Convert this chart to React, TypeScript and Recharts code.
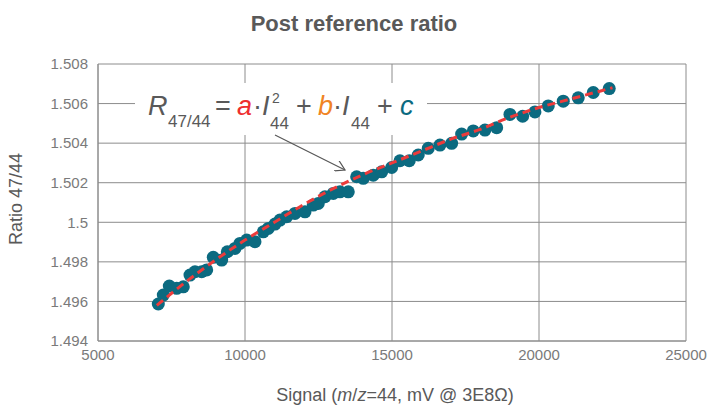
import React from "react";
import {
  ComposedChart,
  Scatter,
  XAxis,
  YAxis,
  CartesianGrid,
} from "recharts";

const signal = [
  7051, 7221, 7425, 7677, 7901, 8129, 8299, 8527, 8697, 8921, 9207, 9398, 9659,
  9829, 10057, 10339, 10622, 10792, 11020, 11190, 11418, 11700, 12040, 12322,
  12492, 12720, 13002, 13230, 13513, 13798, 14023, 14363, 14649, 14989, 15271,
  15587, 15893, 16233, 16631, 17029, 17369, 17764, 18162, 18560, 19012, 19444,
  19862, 20315, 20825, 21335, 21845, 22389,
];
const ratio = [
  1.49587, 1.49632, 1.49678, 1.49666, 1.49674, 1.49733, 1.4975, 1.4975, 1.49759,
  1.49823, 1.49809, 1.49851, 1.49868, 1.49893, 1.4991, 1.49902, 1.49952,
  1.49969, 1.49991, 1.50011, 1.50028, 1.50045, 1.50053, 1.50087, 1.50095,
  1.50129, 1.50146, 1.50154, 1.50154, 1.5023, 1.50222, 1.50238, 1.50255,
  1.50277, 1.50311, 1.50311, 1.5034, 1.50374, 1.5039, 1.50399, 1.50446,
  1.50462, 1.50466, 1.50478, 1.50545, 1.50536, 1.50558, 1.50588, 1.50612,
  1.50629, 1.50656, 1.50676,
];

// dashed fit curve
const fitSignal = [7000, 8000, 9000, 10000, 11000, 12000, 13000, 14000, 15000, 16000, 17000, 18000, 19000, 20000, 21000, 22000, 22500];
const fitRatio = [1.4958, 1.497, 1.4981, 1.4991, 1.5, 1.5009, 1.5017, 1.5024, 1.503, 1.5036, 1.5042, 1.5047, 1.5053, 1.5058, 1.5062, 1.5066, 1.5068];

const xTicks = [5000, 10000, 15000, 20000, 25000];
const yTicks = [1.494, 1.496, 1.498, 1.5, 1.502, 1.504, 1.506, 1.508];

const points = signal.map((x, i) => ({ x, y: ratio[i] }));
const fit = fitSignal.map((x, i) => ({ x, y: fitRatio[i] }));

const FONT = "'Liberation Sans', Arial, sans-serif";
const TEAL = "#0b6a80";
const GRID = "#8c8c8c";

const Dot = (props: any) => (
  <circle cx={props.cx} cy={props.cy} r={6.5} fill={TEAL} />
);
const NoDot = () => <g />;

export default function App() {
  return (
    <div style={{ position: "absolute", left: 0, top: 0, width: 709, height: 406, background: "#fff", fontFamily: FONT }}>
      <ComposedChart
        width={709}
        height={406}
        margin={{ top: 64, right: 23, bottom: 0, left: 0 }}
      >
        <CartesianGrid stroke={GRID} strokeWidth={1} />
        <XAxis
          type="number"
          dataKey="x"
          domain={[5000, 25000]}
          ticks={xTicks}
          height={65}
          tickSize={0}
          tickMargin={8}
          stroke={GRID}
          tick={{ fill: "#7a7a7a", fontSize: 15, fontFamily: FONT }}
          allowDataOverflow
        />
        <YAxis
          type="number"
          dataKey="y"
          domain={[1.494, 1.508]}
          ticks={yTicks}
          width={98}
          tickSize={0}
          tickMargin={10}
          stroke={GRID}
          tick={{ fill: "#7a7a7a", fontSize: 15, fontFamily: FONT }}
          tickFormatter={(v: number) => String(v)}
          allowDataOverflow
        />
        <Scatter data={points} dataKey="y" fill={TEAL} shape={Dot} isAnimationActive={false} />
        <Scatter
          data={fit}
          dataKey="y"
          shape={NoDot}
          line={{ stroke: "#ec3b3b", strokeWidth: 3, strokeDasharray: "8 5" }}
          lineJointType="monotoneX"
          isAnimationActive={false}
        />
      </ComposedChart>
      <svg
        width={709}
        height={406}
        style={{ position: "absolute", left: 0, top: 0, pointerEvents: "none" }}
        fontFamily={FONT}
      >
        <defs>
          <marker id="arrow" markerWidth="12" markerHeight="12" refX="10" refY="6" orient="auto" markerUnits="userSpaceOnUse">
            <path d="M0,0 L10,6 L0,12" fill="none" stroke="#555" strokeWidth={1.2} />
          </marker>
        </defs>
        <text x={354} y={31} textAnchor="middle" fontSize={22} fontWeight="bold" fill="#595959">
          Post reference ratio
        </text>
        <text x={16} y={199} textAnchor="middle" fontSize={18} fill="#595959" transform="rotate(-90 16 199)" dominantBaseline="central">
          Ratio 47/44
        </text>
        <text x={395} y={401} textAnchor="middle" fontSize={18} fill="#595959">
          Signal (<tspan fontStyle="italic">m</tspan>/<tspan fontStyle="italic">z</tspan>=44, mV @ 3E8Ω)
        </text>

        <rect x={135} y={83} width={292} height={52} fill="#fff" />
        <line x1={275} y1={135} x2={345} y2={170} stroke="#555" strokeWidth={1.2} markerEnd="url(#arrow)" />
        <g fontSize={27} fill="#595959">
          <text x={148} y={115} fontStyle="italic">R</text>
          <text x={168} y={127} fontSize={17}>47/44</text>
          <text x={215} y={115}>=</text>
          <text x={237} y={115} fontStyle="italic" fill="#ee2e2e">a</text>
          <text x={253} y={115}>·<tspan fontStyle="italic">I</tspan></text>
          <text x={272} y={103} fontSize={14}>2</text>
          <text x={270} y={129} fontSize={17}>44</text>
          <text x={296} y={115}>+</text>
          <text x={318} y={115} fontStyle="italic" fill="#f08424">b</text>
          <text x={333} y={115}>·<tspan fontStyle="italic">I</tspan></text>
          <text x={351} y={129} fontSize={17}>44</text>
          <text x={377} y={115}>+</text>
          <text x={400} y={115} fontStyle="italic" fill={TEAL}>c</text>
        </g>
      </svg>
    </div>
  );
}
